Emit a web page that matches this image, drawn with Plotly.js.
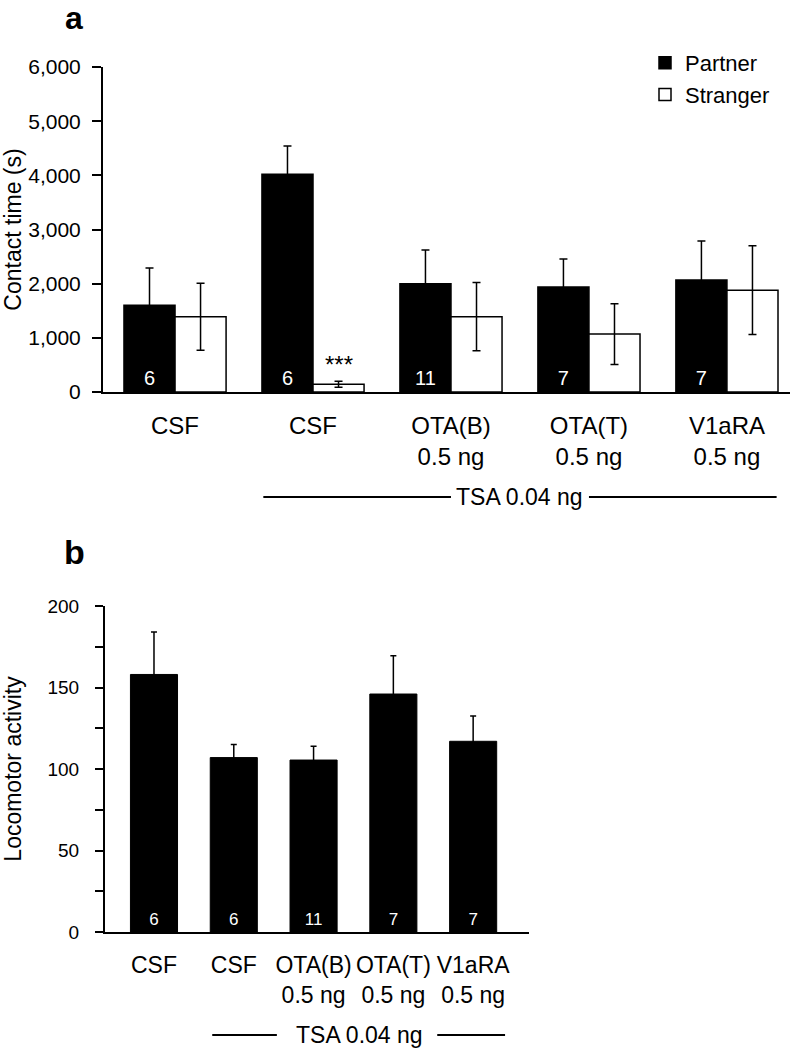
<!DOCTYPE html>
<html>
<head>
<meta charset="utf-8">
<script src="https://cdn.plot.ly/plotly-3.0.1.min.js"></script>
<style>
  body { margin: 0; background: #fff; }
  #chart { width: 790px; height: 1050px; }
</style>
</head>
<body>
<div id="chart"></div>
<script>
// panel a - contact time
var positions = [0, 1, 2, 3, 4];
var groupLabelsA = ["CSF", "CSF", "OTA(B)<br>0.5 ng", "OTA(T)<br>0.5 ng", "V1aRA<br>0.5 ng"];
var partner = [1600, 4020, 2000, 1940, 2070];
var partnerErr = [690, 520, 620, 515, 720];
var stranger = [1390, 145, 1390, 1070, 1880];
var strangerErr = [620, 55, 630, 560, 820];
var nA = ["6", "6", "11", "7", "7"];

// panel b - locomotor activity
var groupLabelsB = ["CSF", "CSF", "OTA(B)<br>0.5 ng", "OTA(T)<br>0.5 ng", "V1aRA<br>0.5 ng"];
var loco = [158, 107, 105.5, 146, 117];
var locoErr = [26, 8, 8.5, 23.5, 15.5];
var nB = ["6", "6", "11", "7", "7"];

var FONT = "Liberation Sans, Arial, sans-serif";
var W = 790, H = 1050;
function px(x) { return x / W; }
function py(y) { return 1 - y / H; }

var traces = [
  {
    type: "bar", name: "Partner", x: positions, y: partner,
    xaxis: "x", yaxis: "y",
    marker: { color: "#000", line: { color: "#000", width: 1.5 } },
    error_y: { type: "data", array: partnerErr, color: "#000", thickness: 1.5, width: 4 },
    text: nA, textposition: "inside", insidetextanchor: "start",
    textfont: { color: "#fff", size: 20, family: FONT },
    hoverinfo: "skip"
  },
  {
    type: "bar", name: "Stranger", x: positions, y: stranger,
    xaxis: "x", yaxis: "y",
    marker: { color: "#fff", line: { color: "#000", width: 1.5 } },
    error_y: { type: "data", array: strangerErr, color: "#000", thickness: 1.5, width: 4 },
    hoverinfo: "skip"
  },
  {
    type: "bar", name: "Locomotor", x: positions, y: loco,
    xaxis: "x2", yaxis: "y2", width: 0.59, showlegend: false,
    marker: { color: "#000", line: { color: "#000", width: 1 } },
    error_y: { type: "data", array: locoErr, color: "#000", thickness: 1.5, width: 3 },
    text: nB, textposition: "inside", insidetextanchor: "start",
    textfont: { color: "#fff", size: 17, family: FONT },
    hoverinfo: "skip"
  }
];

var axisCommon = {
  showgrid: false, zeroline: false, showline: true,
  linecolor: "#000", linewidth: 2, color: "#000", fixedrange: true
};

var layout = {
  width: W, height: H,
  margin: { l: 0, r: 0, t: 0, b: 0 },
  paper_bgcolor: "#fff", plot_bgcolor: "rgba(0,0,0,0)",
  font: { family: FONT, color: "#000" },
  barmode: "group", bargap: 0.26, bargroupgap: 0,
  showlegend: true,
  legend: {
    x: px(645), y: py(42), xanchor: "left", yanchor: "top",
    font: { size: 22, family: FONT }, bgcolor: "rgba(0,0,0,0)",
    tracegroupgap: 0
  },
  xaxis: Object.assign({}, axisCommon, {
    domain: [px(103), 1], range: [-0.522, 4.457],
    tickvals: positions, ticktext: groupLabelsA, ticks: "", tickangle: 0,
    tickfont: { size: 24 }, anchor: "y", ticklabelstandoff: 11
  }),
  yaxis: Object.assign({}, axisCommon, {
    domain: [py(392), py(67)], range: [0, 6000], dtick: 1000,
    tickformat: ",d", ticks: "outside", ticklen: 9, tickwidth: 2,
    tickfont: { size: 21 }, anchor: "x", ticklabelstandoff: 7,
    title: { text: "Contact time (s)", font: { size: 23 }, standoff: 12 }
  }),
  xaxis2: Object.assign({}, axisCommon, {
    domain: [px(105), px(529)], range: [-0.614, 4.70],
    tickvals: positions, ticktext: groupLabelsB, ticks: "", tickangle: 0,
    tickfont: { size: 23 }, anchor: "y2", ticklabelstandoff: 11
  }),
  yaxis2: Object.assign({}, axisCommon, {
    domain: [py(932), py(606)], range: [0, 200], dtick: 50,
    ticks: "outside", ticklen: 8, tickwidth: 2,
    minor: { dtick: 25, ticks: "outside", ticklen: 8, tickwidth: 2, tickcolor: "#000" },
    tickfont: { size: 19 }, anchor: "x2", ticklabelstandoff: 12,
    title: { text: "Locomotor activity", font: { size: 23 }, standoff: 30 }
  }),
  shapes: [
    { type: "line", xref: "x", yref: "paper", x0: 0.64, x1: 2.0, y0: py(497), y1: py(497), line: { color: "#000", width: 2 } },
    { type: "line", xref: "x", yref: "paper", x0: 3.0, x1: 4.36, y0: py(497), y1: py(497), line: { color: "#000", width: 2 } },
    { type: "line", xref: "x2", yref: "paper", x0: 0.73, x1: 1.54, y0: py(1035), y1: py(1035), line: { color: "#000", width: 2 } },
    { type: "line", xref: "x2", yref: "paper", x0: 3.55, x1: 4.40, y0: py(1035), y1: py(1035), line: { color: "#000", width: 2 } }
  ],
  annotations: [
    { text: "<b>a</b>", xref: "paper", yref: "paper", x: px(74), y: py(18), xanchor: "center", yanchor: "middle", showarrow: false, font: { size: 32 } },
    { text: "<b>b</b>", xref: "paper", yref: "paper", x: px(74), y: py(552), xanchor: "center", yanchor: "middle", showarrow: false, font: { size: 34 } },
    { text: "TSA 0.04 ng", xref: "x", yref: "paper", x: 2.5, y: py(497), xanchor: "center", yanchor: "middle", showarrow: false, font: { size: 23 } },
    { text: "TSA 0.04 ng", xref: "x2", yref: "paper", x: 2.58, y: py(1035), xanchor: "center", yanchor: "middle", showarrow: false, font: { size: 23 } },
    { text: "***", xref: "x", yref: "y", x: 1.185, y: 500, xanchor: "center", yanchor: "middle", showarrow: false, font: { size: 24 } }
  ]
};

Plotly.newPlot("chart", traces, layout, { displayModeBar: false, staticPlot: true });
</script>
</body>
</html>
